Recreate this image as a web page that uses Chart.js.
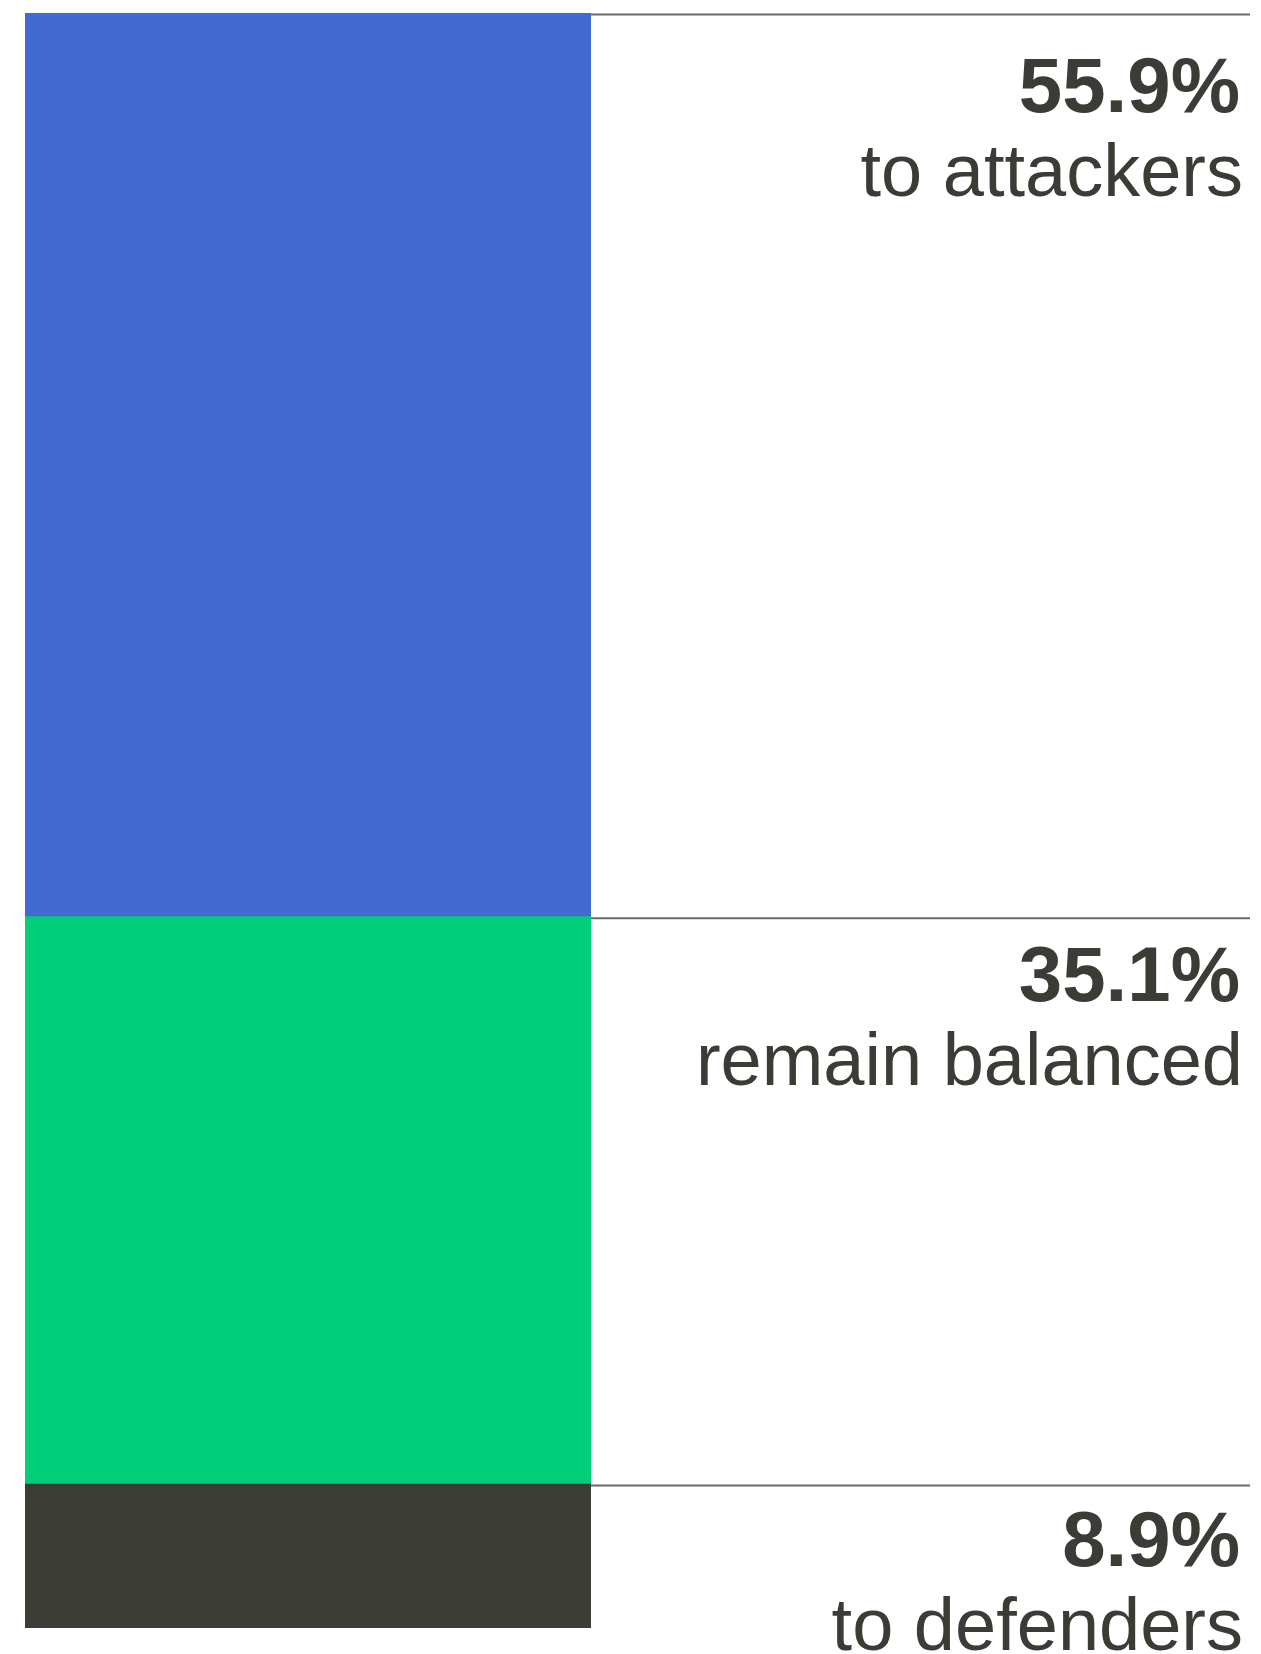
<!DOCTYPE html>
<html>
<head>
<meta charset="utf-8">
<script src="https://cdn.jsdelivr.net/npm/chart.js@4"></script>
<style>
  html, body { margin: 0; padding: 0; background: #ffffff; }
  canvas { display: block; }
</style>
</head>
<body>
<canvas id="shareChart" width="1261" height="1654"></canvas>
<script>
// stacked from the bottom up
const outcomes = ["to defenders", "remain balanced", "to attackers"];
const shares = [8.9, 35.1, 55.9];
const colors = ["#3c3c36", "#00ce78", "#4369d3"];

const total = shares.reduce((a, b) => a + b, 0);

// text + rule to the right of each segment
const sideLabels = {
    id: "sideLabels",
    afterDatasetsDraw(chart, args, opts) {
        const ctx = chart.ctx;
        const area = chart.chartArea;
        ctx.save();
        chart.data.datasets.forEach((ds, i) => {
            const bar = chart.getDatasetMeta(i).data[0];
            const top = Math.min(bar.y, bar.base);

            ctx.strokeStyle = opts.ruleColor;
            ctx.lineWidth = 2;
            ctx.beginPath();
            ctx.moveTo(area.right, top + 1.5);
            ctx.lineTo(opts.ruleEnd, top + 1.5);
            ctx.stroke();

            const y = top + opts.drop[i];
            ctx.fillStyle = opts.textColor;
            ctx.textAlign = "right";
            ctx.textBaseline = "alphabetic";
            ctx.font = "bold 78px 'Liberation Sans', Arial, sans-serif";
            ctx.fillText(ds.data[0].toFixed(1) + "%", opts.textRight, y);
            ctx.font = "74px 'Liberation Sans', Arial, sans-serif";
            ctx.fillText(ds.label, opts.textRight + 3, y + 84);
        });
        ctx.restore();
    }
};

const ctx = document.getElementById("shareChart").getContext("2d");

new Chart(ctx, {
    type: "bar",
    data: {
        labels: [""],
        datasets: outcomes.map((name, i) => ({
            label: name,
            data: [shares[i]],
            backgroundColor: colors[i],
            borderWidth: 0,
            barPercentage: 1,
            categoryPercentage: 1,
        }))
    },
    options: {
        responsive: false,
        animation: false,
        layout: {
            padding: { top: 13, left: 25, right: 670, bottom: 26 }
        },
        plugins: {
            legend: { display: false },
            tooltip: { enabled: false },
            sideLabels: {
                ruleColor: "#6b6b66",
                ruleEnd: 1250,
                textColor: "#3c3c36",
                textRight: 1240,
                drop: [82, 84, 99],
            }
        },
        scales: {
            x: { stacked: true, display: false },
            y: { stacked: true, display: false, min: 0, max: total }
        }
    },
    plugins: [sideLabels]
});
</script>
</body>
</html>
